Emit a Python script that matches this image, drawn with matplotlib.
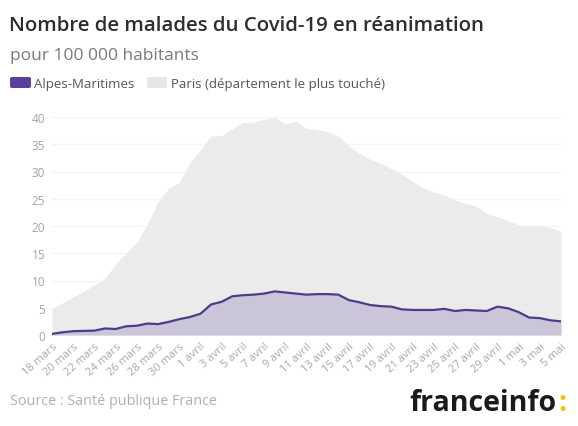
import matplotlib
matplotlib.use("Agg")
import matplotlib.pyplot as plt
import numpy as np
from matplotlib.patches import FancyBboxPatch

# ---- data ----
days = list(range(49))  # 18 mars .. 5 mai
paris = [4.9, 5.9, 7.0, 8.0, 9.2, 10.4, 13.0, 15.0, 17.0, 20.3,
         24.5, 26.9, 28.0, 31.5, 34.0, 36.5, 36.6, 37.8, 39.0, 39.1,
         39.6, 39.9, 38.8, 39.2, 37.9, 37.7, 37.3, 36.5, 34.7, 33.3,
         32.2, 31.5, 30.5, 29.5, 28.2, 27.0, 26.2, 25.7, 24.8, 24.1,
         23.7, 22.3, 21.7, 21.0, 20.2, 20.1, 20.1, 19.7, 19.0]
alpes = [0.2, 0.5, 0.7, 0.75, 0.8, 1.2, 1.1, 1.6, 1.7, 2.1,
         2.0, 2.4, 2.9, 3.3, 3.9, 5.6, 6.1, 7.1, 7.3, 7.4,
         7.6, 8.0, 7.8, 7.6, 7.4, 7.5, 7.5, 7.4, 6.4, 6.0,
         5.5, 5.3, 5.2, 4.7, 4.6, 4.6, 4.6, 4.8, 4.4, 4.6,
         4.5, 4.4, 5.2, 4.9, 4.2, 3.2, 3.1, 2.7, 2.5]
tick_labels = ["18 mars", "20 mars", "22 mars", "24 mars", "26 mars", "28 mars",
               "30 mars", "1 avril", "3 avril", "5 avril", "7 avril", "9 avril",
               "11 avril", "13 avril", "15 avril", "17 avril", "19 avril",
               "21 avril", "23 avril", "25 avril", "27 avril", "29 avril",
               "1 mai", "3 mai", "5 mai"]
y_ticks = [0, 5, 10, 15, 20, 25, 30, 35, 40]

title = "Nombre de malades du Covid-19 en réanimation"
subtitle = "pour 100 000 habitants"
legend_labels = ["Alpes-Maritimes", "Paris (département le plus touché)"]
source = "Source : Santé publique France"

FONT = "Open Sans"
plt.rcParams['font.family'] = [FONT, 'DejaVu Sans']

W, H = 578, 427
fig = plt.figure(figsize=(W / 100, H / 100), dpi=100)
fig.patch.set_facecolor("white")

left, right, bottom, top = 52, 561, 336, 118
ax = fig.add_axes([left / W, 1 - bottom / H, (right - left) / W, (bottom - top) / H])

paris_col = "#ebebeb"
alpes_fill = "#cbc5da"
alpes_line = "#4f3b8a"

ax.fill_between(days, 0, paris, color=paris_col, lw=0, zorder=1)
ax.fill_between(days, 0, alpes, color=alpes_fill, lw=0, zorder=2)
ax.plot(days, alpes, color=alpes_line, lw=1.6, zorder=4, solid_joinstyle="round")

for yv in y_ticks[1:]:
    ax.axhline(yv, color="#f0f0f0", lw=0.8, zorder=1.5, alpha=0.8)

ax.set_xlim(0, 48)
ax.set_ylim(0, 40)
ax.set_yticks(y_ticks)
ax.set_yticklabels([str(v) for v in y_ticks], fontsize=8.5, color="#a3a3a3")
ax.set_xticks(days[::2])
ax.set_xticklabels(tick_labels, rotation=42, ha="right", rotation_mode="anchor",
                   fontsize=8, color="#a8a8a8")
ax.tick_params(axis="y", length=0, pad=5)
ax.tick_params(axis="x", length=0, pad=4)
for s in ax.spines.values():
    s.set_visible(False)
ax.set_facecolor("none")

def fx(px):
    return px / W

def fy(py):
    return 1 - py / H

fig.text(fx(9), fy(31), title, fontsize=14.7, color="#2e2e2e", fontweight="semibold",
         ha="left", va="baseline")
fig.text(fx(10), fy(60), subtitle, fontsize=12.5, color="#7a7a7a", ha="left", va="baseline")

# legend
fig.patches.append(FancyBboxPatch((fx(10), fy(89)), fx(21), 11 / H, boxstyle="round,pad=0,rounding_size=0.004",
                                  transform=fig.transFigure, facecolor="#5a3f9c", edgecolor="none"))
fig.text(fx(34), fy(88), legend_labels[0], fontsize=9.5, color="#555555", ha="left", va="baseline")
fig.patches.append(FancyBboxPatch((fx(147), fy(89)), fx(20), 11 / H, boxstyle="round,pad=0,rounding_size=0.004",
                                  transform=fig.transFigure, facecolor="#e6e6e6", edgecolor="none"))
fig.text(fx(171), fy(88), legend_labels[1], fontsize=9.5, color="#555555", ha="left", va="baseline")

fig.text(fx(10), fy(405), source, fontsize=10.4, color="#b0b0b0", ha="left", va="baseline")

fig.text(fx(557), fy(411), "franceinfo", fontsize=20.5, color="#1a1a1a", fontweight="bold",
         ha="right", va="baseline")
fig.text(fx(558), fy(411), ":", fontsize=20.5, color="#f5c400", fontweight="bold",
         ha="left", va="baseline")

fig.savefig("out.png", dpi=100, facecolor="white")
